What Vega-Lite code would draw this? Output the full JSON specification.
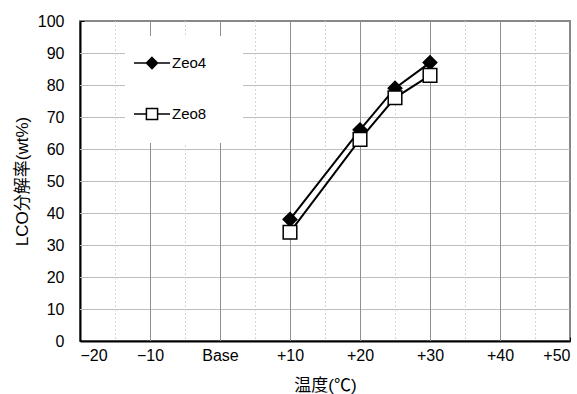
{
  "$schema": "https://vega.github.io/schema/vega-lite/v6.json",
  "width": 490,
  "height": 320,
  "autosize": {"type": "none"},
  "padding": {"left": 80, "top": 21, "right": 7, "bottom": 53},
  "background": "white",
  "config": {
    "view": {"stroke": "#888888", "strokeWidth": 2},
    "axis": {
      "grid": false,
      "labelFont": "Liberation Sans",
      "labelFontSize": 16,
      "labelColor": "black",
      "titleFont": "Liberation Sans, Noto Sans CJK JP",
      "titleFontSize": 17,
      "titleFontWeight": "normal",
      "titleColor": "black",
      "ticks": true,
      "tickSize": -4,
      "tickWidth": 1,
      "tickColor": "black",
      "domainColor": "black",
      "domainWidth": 2
    },
    "axisX": {"labelPadding": 10, "titlePadding": 14},
    "axisY": {"labelPadding": 20, "titlePadding": 6}
  },
  "datasets": {
    "main": [
      {"temp": 10, "series": "Zeo4", "value": 38},
      {"temp": 20, "series": "Zeo4", "value": 66},
      {"temp": 25, "series": "Zeo4", "value": 79},
      {"temp": 30, "series": "Zeo4", "value": 87},
      {"temp": 10, "series": "Zeo8", "value": 34},
      {"temp": 20, "series": "Zeo8", "value": 63},
      {"temp": 25, "series": "Zeo8", "value": 76},
      {"temp": 30, "series": "Zeo8", "value": 83}
    ],
    "minor": [{"x": -15}, {"x": -5}, {"x": 5}, {"x": 15}, {"x": 25}, {"x": 35}, {"x": 45}],
    "vgrid": [{"x": -10}, {"x": 0}, {"x": 10}, {"x": 20}, {"x": 30}, {"x": 40}],
    "hgrid": [{"y": 10}, {"y": 20}, {"y": 30}, {"y": 40}, {"y": 50}, {"y": 60}, {"y": 70}, {"y": 80}, {"y": 90}]
  },
  "layer": [
    {
      "data": {"name": "hgrid"},
      "mark": {"type": "rule", "color": "#bdbdbd", "strokeWidth": 1, "yOffset": 0.5},
      "encoding": {
        "y": {"field": "y", "type": "quantitative", "title": "LCO分解率(wt%)",
          "scale": {"domain": [0, 100], "nice": false},
          "axis": {"values": [0, 10, 20, 30, 40, 50, 60, 70, 80, 90, 100]}}
      }
    },
    {
      "data": {"name": "minor"},
      "mark": {"type": "rule", "color": "#d6d6d6", "strokeWidth": 1, "strokeDash": [2, 2], "xOffset": 0.5},
      "encoding": {
        "x": {"field": "x", "type": "quantitative", "title": "温度(℃)",
          "scale": {"domain": [-20, 50], "nice": false, "zero": false},
          "axis": {"values": [-20, -10, 0, 10, 20, 30, 40, 50],
            "labelExpr": "datum.value == 0 ? 'Base' : (datum.value > 0 ? '+' + datum.value : '−' + abs(datum.value))"}}
      }
    },
    {
      "data": {"name": "vgrid"},
      "mark": {"type": "rule", "color": "#8f8f8f", "strokeWidth": 1, "xOffset": 0.5},
      "encoding": {
        "x": {"field": "x", "type": "quantitative", "title": "温度(℃)",
          "axis": {"values": [-20, -10, 0, 10, 20, 30, 40, 50],
            "labelExpr": "datum.value == 0 ? 'Base' : (datum.value > 0 ? '+' + datum.value : '−' + abs(datum.value))"}}
      }
    },
    {
      "data": {"name": "main"},
      "mark": {"type": "line", "color": "black", "strokeWidth": 2},
      "encoding": {
        "x": {"field": "temp", "type": "quantitative", "title": "温度(℃)",
          "axis": {"values": [-20, -10, 0, 10, 20, 30, 40, 50],
            "labelExpr": "datum.value == 0 ? 'Base' : (datum.value > 0 ? '+' + datum.value : '−' + abs(datum.value))"}},
        "y": {"field": "value", "type": "quantitative", "title": "LCO分解率(wt%)",
          "axis": {"values": [0, 10, 20, 30, 40, 50, 60, 70, 80, 90, 100]}},
        "detail": {"field": "series"}
      }
    },
    {
      "data": {"name": "main"},
      "mark": {"type": "point", "filled": false, "stroke": "black", "strokeWidth": 1.5, "size": 185, "opacity": 1},
      "encoding": {
        "x": {"field": "temp", "type": "quantitative", "title": "温度(℃)",
          "axis": {"values": [-20, -10, 0, 10, 20, 30, 40, 50],
            "labelExpr": "datum.value == 0 ? 'Base' : (datum.value > 0 ? '+' + datum.value : '−' + abs(datum.value))"}},
        "y": {"field": "value", "type": "quantitative", "title": "LCO分解率(wt%)",
          "axis": {"values": [0, 10, 20, 30, 40, 50, 60, 70, 80, 90, 100]}},
        "shape": {"field": "series", "type": "nominal", "legend": null,
          "scale": {"domain": ["Zeo4", "Zeo8"], "range": ["diamond", "square"]}},
        "fill": {"field": "series", "type": "nominal", "legend": null,
          "scale": {"domain": ["Zeo4", "Zeo8"], "range": ["black", "white"]}}
      }
    },
    {
      "data": {"name": "main"},
      "mark": {"type": "point", "filled": true, "opacity": 0},
      "encoding": {
        "x": {"field": "temp", "type": "quantitative", "title": "温度(℃)",
          "axis": {"values": [-20, -10, 0, 10, 20, 30, 40, 50],
            "labelExpr": "datum.value == 0 ? 'Base' : (datum.value > 0 ? '+' + datum.value : '−' + abs(datum.value))"}},
        "y": {"field": "value", "type": "quantitative", "title": "LCO分解率(wt%)",
          "axis": {"values": [0, 10, 20, 30, 40, 50, 60, 70, 80, 90, 100]}},
        "shape": {"field": "series", "type": "nominal",
          "scale": {"domain": ["Zeo4", "Zeo8"], "range": [
            "M-2.2,-1.1M4.4,1M-1,0H-0.31M0.31,0H1M0,-0.31L0.31,0L0,0.31L-0.31,0Z",
            "M-2.2,-1.1M4.4,1M-1,0H-0.31M0.31,0H1M-0.31,-0.31H0.31V0.31H-0.31Z"]},
          "legend": {"orient": "none", "legendX": 45, "legendY": 15, "title": null,
            "fillColor": "white", "padding": 8, "symbolSize": 1296,
            "symbolStrokeColor": "black", "symbolStrokeWidth": 1.5, "symbolOpacity": 1,
            "labelFont": "Liberation Sans", "labelFontSize": 15, "labelColor": "black",
            "labelOffset": 1, "rowPadding": 7}},
        "fill": {"field": "series", "type": "nominal",
          "scale": {"domain": ["Zeo4", "Zeo8"], "range": ["black", "white"]},
          "legend": {"orient": "none", "legendX": 45, "legendY": 15, "title": null,
            "fillColor": "white", "padding": 8, "symbolSize": 1296,
            "symbolStrokeColor": "black", "symbolStrokeWidth": 1.5, "symbolOpacity": 1,
            "labelFont": "Liberation Sans", "labelFontSize": 15, "labelColor": "black",
            "labelOffset": 1, "rowPadding": 7}},
        "stroke": {"field": "series", "type": "nominal",
          "scale": {"domain": ["Zeo4", "Zeo8"], "range": ["black", "black"]},
          "legend": {"orient": "none", "legendX": 45, "legendY": 15, "title": null,
            "fillColor": "white", "padding": 8, "symbolSize": 1296,
            "symbolStrokeColor": "black", "symbolStrokeWidth": 1.5, "symbolOpacity": 1,
            "labelFont": "Liberation Sans", "labelFontSize": 15, "labelColor": "black",
            "labelOffset": 1, "rowPadding": 7}}
      }
    }
  ],
  "resolve": {"scale": {"shape": "independent", "fill": "independent", "stroke": "independent"}}
}
